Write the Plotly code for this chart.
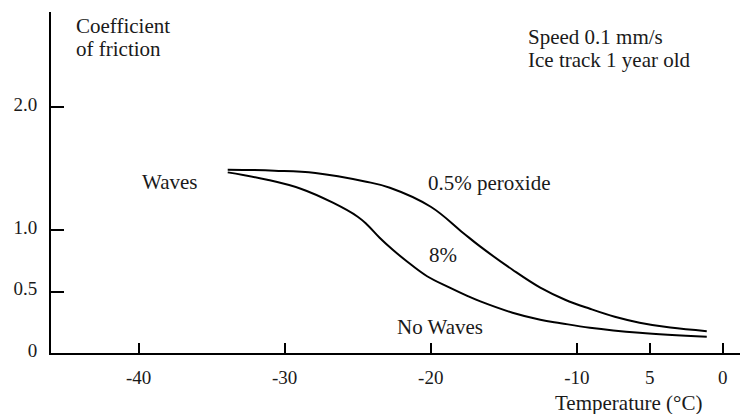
import plotly.graph_objects as go

# Temperature (°C) and friction coefficient for the two peroxide concentrations
temp_05 = [-33.9, -30.7, -27.9, -24.5, -22.8, -20.0, -17.8, -16.6, -14.4, -12.5, -10.8, -9.1, -7.4, -5.7, -3.6, -1.1]
mu_05 = [1.493, 1.485, 1.466, 1.397, 1.346, 1.191, 0.98, 0.866, 0.678, 0.532, 0.434, 0.36, 0.295, 0.247, 0.207, 0.178]

temp_8 = [-33.9, -31.2, -28.9, -26.7, -25.0, -24.35, -23.5, -22.6, -21.6, -20.25, -18.7, -17.5, -16.6, -14.4, -12.5, -11.1, -9.1, -5.7, -1.1]
mu_8 = [1.471, 1.411, 1.338, 1.224, 1.11, 1.045, 0.939, 0.841, 0.743, 0.625, 0.532, 0.465, 0.42, 0.328, 0.271, 0.243, 0.206, 0.165, 0.133]

x_ticks = [-40, -30, -20, -10, -5, 0]
x_tick_text = ["-40", "-30", "-20", "-10", "5", "0"]
y_ticks = [0, 0.5, 1.0, 2.0]
y_tick_text = ["0", "0.5", "1.0", "2.0"]

SERIF = "Liberation Serif, Times New Roman, serif"
INK = "#1a1a1a"
FS_TICK = 19
FS_TEXT = 21

fig = go.Figure()
for xs, ys in [(temp_05, mu_05), (temp_8, mu_8)]:
    fig.add_trace(go.Scatter(
        x=xs, y=ys, mode="lines",
        line=dict(color="black", width=2, shape="spline", smoothing=1.1),
        showlegend=False, hoverinfo="skip",
    ))

axis_common = dict(
    showgrid=False, zeroline=False, showline=True,
    linecolor="black", linewidth=2,
    tickcolor="black", tickwidth=2,
    tickfont=dict(family=SERIF, size=FS_TICK, color=INK),
    tickmode="array",
)

fig.update_xaxes(
    **axis_common, range=[-46, 1.175], ticks="inside",
    tickvals=x_ticks, ticktext=x_tick_text, ticklen=10,
    ticklabelstandoff=6,
)
fig.update_yaxes(
    **axis_common, range=[0, 2.777], ticks="inside",
    tickvals=y_ticks, ticktext=y_tick_text, ticklen=13,
    ticklabelstandoff=8, ticklabelshift=-3,
)

def label(x, y, text, yref="y"):
    fig.add_annotation(
        x=x, y=y, xref="x", yref=yref, text=text, showarrow=False,
        xanchor="left", yanchor="middle", align="left",
        font=dict(family=SERIF, size=FS_TEXT, color=INK),
    )

label(-44.42, 2.665, "Coefficient")
label(-44.42, 2.478, "of friction")
label(-13.47, 2.576, "Speed 0.1 mm/s")
label(-13.47, 2.388, "Ice track 1 year old")
label(-39.9, 1.395, "Waves")
label(-20.32, 1.387, "0.5% peroxide")
label(-20.25, 0.80, "8%")
label(-22.44, 0.214, "No Waves")
label(-11.6, -0.147, "Temperature (°C)", yref="paper")

fig.update_layout(
    width=740, height=414,
    margin=dict(l=51, r=0, t=12, b=61),
    paper_bgcolor="white", plot_bgcolor="white",
)

fig.write_html("out.html")
